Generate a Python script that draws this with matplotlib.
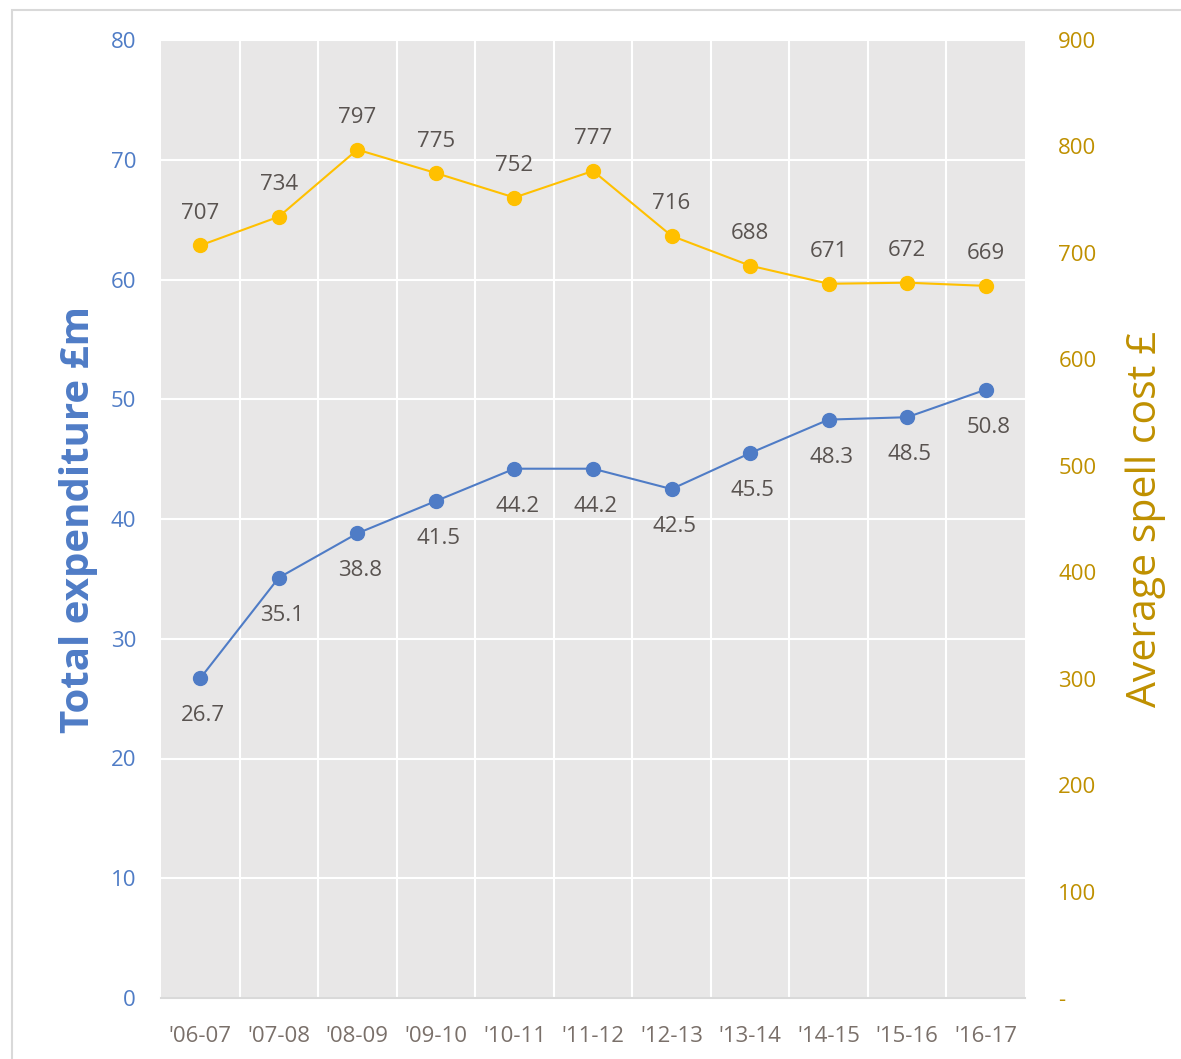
import matplotlib
matplotlib.use("Agg")
import matplotlib.pyplot as plt
from matplotlib.patches import Rectangle

plt.rcParams['font.family'] = ['Open Sans', 'DejaVu Sans']

years = ["'06-07", "'07-08", "'08-09", "'09-10", "'10-11", "'11-12",
         "'12-13", "'13-14", "'14-15", "'15-16", "'16-17"]
total_expenditure = [26.7, 35.1, 38.8, 41.5, 44.2, 44.2, 42.5, 45.5, 48.3, 48.5, 50.8]
spell_cost = [707, 734, 797, 775, 752, 777, 716, 688, 671, 672, 669]
left_ticks = [0, 10, 20, 30, 40, 50, 60, 70, 80]
right_ticks = [0, 100, 200, 300, 400, 500, 600, 700, 800, 900]
right_tick_labels = ['-', '100', '200', '300', '400', '500', '600', '700', '800', '900']

BLUE = '#4F7CC6'
BLUE_TXT = '#4F7CC6'
GOLD = '#FFC000'
GOLD_TXT = '#BF9000'
LABEL = '#595350'
XTICK = '#7A706A'
FS = 16

W, H = 1181, 1059
fig = plt.figure(figsize=(W / 100, H / 100), dpi=100)
fig.patches.append(Rectangle((12 / W, -0.1), 1.2, 1 - 10 / H + 0.1, transform=fig.transFigure,
                             fill=False, edgecolor='#D9D9D9', linewidth=1.5))

l, r, t, b = 161, 1025, 40, 998
ax = fig.add_axes([l / W, 1 - b / H, (r - l) / W, (b - t) / H])
ax.set_facecolor('#E8E7E7')
n = len(years)
x = list(range(n))
ax.set_xlim(-0.5, n - 0.5)
ax.set_ylim(0, 80)
ax.set_yticks(left_ticks)
ax.set_xticks(x)
ax.set_xticklabels(years)
ax.set_xticks([i + 0.5 for i in range(n - 1)], minor=True)
ax.grid(True, which='major', axis='y', color='white', linewidth=1.5)
ax.grid(True, which='minor', axis='x', color='white', linewidth=1.5)
ax.set_axisbelow(True)
for s in ['top', 'right', 'left']:
    ax.spines[s].set_visible(False)
ax.spines['bottom'].set_color('#D9D9D9')
ax.spines['bottom'].set_linewidth(1.5)
ax.tick_params(axis='both', which='both', length=0)
ax.tick_params(axis='y', labelcolor=BLUE_TXT, labelsize=FS, pad=18)
ax.tick_params(axis='x', labelcolor=XTICK, labelsize=FS, pad=20)
ax.set_ylabel('Total expenditure £m', color=BLUE_TXT, fontsize=29, fontweight='bold', labelpad=9)

ax2 = ax.twinx()
ax2.set_ylim(0, 900)
ax2.set_yticks(right_ticks)
ax2.set_yticklabels(right_tick_labels)
for s in ['top', 'right', 'left', 'bottom']:
    ax2.spines[s].set_visible(False)
ax2.tick_params(axis='y', length=0, labelcolor=GOLD_TXT, labelsize=FS, pad=24)
ax2.set_ylabel('Average spell cost £', color=GOLD_TXT, fontsize=29.5, labelpad=21)

ax.plot(x, total_expenditure, color=BLUE, linewidth=1.5, marker='o', markersize=10, zorder=3)
for xi, v in zip(x, total_expenditure):
    ax.annotate(f'{v:.1f}', (xi, v), xytext=(2, -27), textcoords='offset points',
                ha='center', va='center', fontsize=FS, color=LABEL)

ax2.plot(x, spell_cost, color=GOLD, linewidth=1.5, marker='o', markersize=10, zorder=3)
for xi, v in zip(x, spell_cost):
    ax2.annotate(f'{v}', (xi, v), xytext=(0, 23), textcoords='offset points',
                 ha='center', va='center', fontsize=FS, color=LABEL)

fig.savefig('out.png', dpi=100)
